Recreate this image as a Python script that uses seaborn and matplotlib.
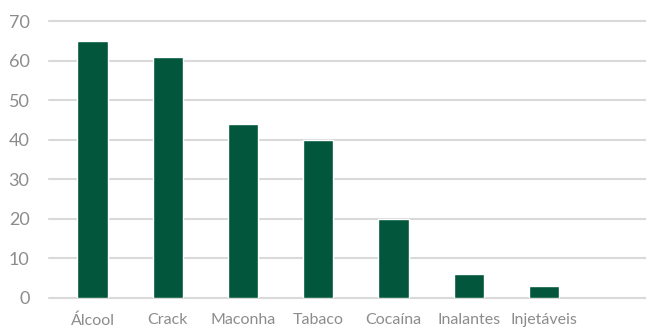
import matplotlib
matplotlib.use("Agg")
import matplotlib.pyplot as plt
import seaborn as sns
import pandas as pd

categories = ["Álcool", "Crack", "Maconha", "Tabaco", "Cocaína", "Inalantes", "Injetáveis"]
values = [65, 61, 44, 40, 20, 6, 3]
yticks = [0, 10, 20, 30, 40, 50, 60, 70]

sns.set_theme(style="white")
plt.rcParams['font.family'] = ['Lato', 'DejaVu Sans']

df = pd.DataFrame({"cat": categories, "val": values})

fig = plt.figure(figsize=(6.46, 3.29), dpi=100)
ax = fig.add_axes([49/646, 31/329, 597/646, 277/329])
sns.barplot(data=df, x="cat", y="val", color="#01563C", width=0.4, saturation=1, ax=ax, zorder=3)

ax.set_ylim(0, 70)
ax.set_yticks(yticks)
ax.set_xlim(-0.578, 7.356)
ax.grid(axis="y", color="#d9d9d9", linewidth=1.5, zorder=0)
for gl in ax.get_ygridlines():
    gl.set_clip_on(False)
for s in ax.spines.values():
    s.set_visible(False)
ax.set_xlabel("")
ax.set_ylabel("")
ax.tick_params(axis="y", length=0, pad=14, labelsize=13, labelcolor="#8c8c8c")
ax.tick_params(axis="x", length=0, pad=11, labelsize=11.5, labelcolor="#8c8c8c")

fig.savefig("out.png", dpi=100)
